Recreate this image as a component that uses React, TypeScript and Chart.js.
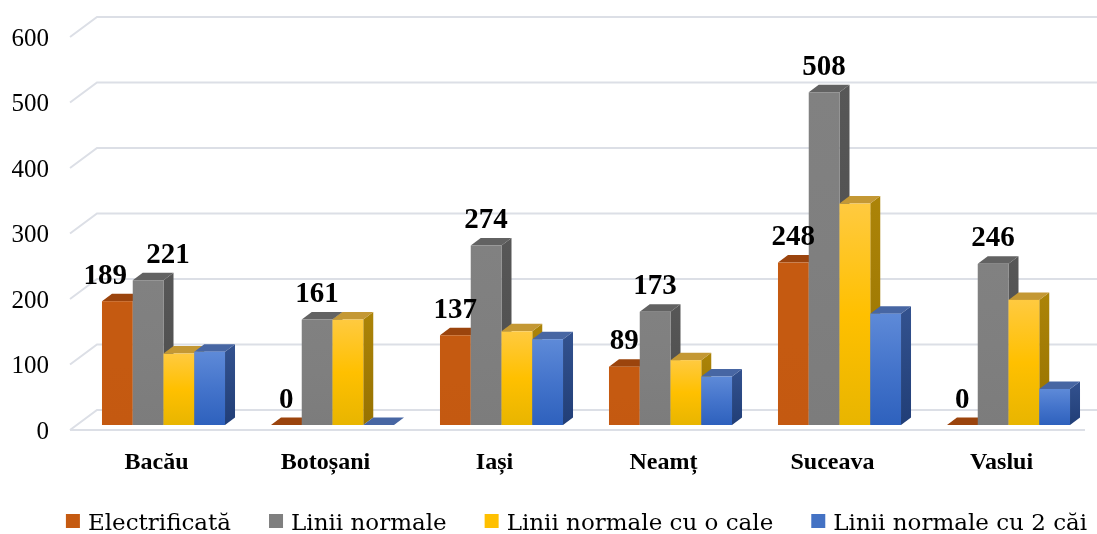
import React, { useEffect, useRef } from 'react';
import { Chart, registerables } from 'chart.js';

Chart.register(...registerables);

// ---- data ----
const categories = ['Bacău', 'Botoșani', 'Iași', 'Neamț', 'Suceava', 'Vaslui'];
const seriesNames = ['Electrificată', 'Linii normale', 'Linii normale cu o cale', 'Linii normale cu 2 căi'];
const electrificata = [189, 0, 137, 89, 248, 0];
const liniiNormale = [221, 161, 274, 173, 508, 246];
const liniiOCale = [109, 161, 143, 99, 338, 191];
const linii2Cai = [112, 0, 131, 74, 170, 55];
const yTickValues = [0, 100, 200, 300, 400, 500, 600];

// ---- styling ----
const W = 1097;
const H = 534;
const DX = 10;
const DY = 7.5;

const styles = [
  { legend: '#C55A11', front: ['#C55A11', '#C55A11', '#C45911'], top: '#9B440D', side: ['#8F3D0A', '#7E3508'] },
  { legend: '#7F7F7F', front: ['#818181', '#7F7F7F', '#7C7C7C'], top: '#626262', side: ['#575757', '#4C4C4C'] },
  { legend: '#FFC000', front: ['#FFCA40', '#FFC000', '#E8B500'], top: '#C49834', side: ['#AC8408', '#977200'] },
  { legend: '#4472C4', front: ['#5E8AD8', '#4474CB', '#2E61BD'], top: '#4766A3', side: ['#33528F', '#213E77'] },
];
const labelledSeries = [0, 1];
const labelShift = [
  [-12, 0, 0, 0, 0, 0],
  [20, 0, 0, 0, 0, 0],
];

const FONT_SERIF = '"Liberation Serif", serif';
const FONT_LEGEND = '"DejaVu Serif", serif';

const zeroPadding = (s: any) => {
  s.paddingTop = 0;
  s.paddingBottom = 0;
  s.paddingLeft = 0;
  s.paddingRight = 0;
};

const scene3d = {
  id: 'scene3d',
  beforeDatasetsDraw(chart: any) {
    const { ctx, chartArea: a, scales } = chart;
    const y = scales.y;
    ctx.save();
    ctx.strokeStyle = '#DCDFE6';
    ctx.lineWidth = 2;
    for (const v of yTickValues) {
      const py = y.getPixelForValue(v);
      ctx.beginPath();
      ctx.moveTo(a.left - 9, py + 5);
      ctx.lineTo(a.left + 18, py - 15);
      ctx.lineTo(W, py - 15);
      ctx.stroke();
    }
    const p0 = y.getPixelForValue(0) + 5;
    ctx.beginPath();
    ctx.moveTo(a.left - 9, p0);
    ctx.lineTo(a.right - 8, p0);
    ctx.stroke();
    ctx.restore();
  },
  afterDatasetsDraw(chart: any) {
    const { ctx } = chart;
    const n = chart.data.datasets.length;
    ctx.save();
    for (let j = 0; j < categories.length; j++) {
      for (let i = 0; i < n; i++) {
        const el = chart.getDatasetMeta(i).data[j];
        const p = el.getProps(['x', 'y', 'base', 'width'], true);
        const l = p.x - p.width / 2;
        const r = p.x + p.width / 2;
        const top = Math.min(p.y, p.base);
        const bot = Math.max(p.y, p.base);
        const s = styles[i];
        // side face
        let g = ctx.createLinearGradient(0, top - DY, 0, bot);
        g.addColorStop(0, s.side[0]);
        g.addColorStop(1, s.side[1]);
        ctx.fillStyle = g;
        ctx.beginPath();
        ctx.moveTo(r, top);
        ctx.lineTo(r + DX, top - DY);
        ctx.lineTo(r + DX, bot - DY);
        ctx.lineTo(r, bot);
        ctx.closePath();
        ctx.fill();
        // top face
        ctx.fillStyle = s.top;
        ctx.beginPath();
        ctx.moveTo(l, top);
        ctx.lineTo(l + DX, top - DY);
        ctx.lineTo(r + DX, top - DY);
        ctx.lineTo(r, top);
        ctx.closePath();
        ctx.fill();
        // front face
        if (bot - top > 0.5) {
          g = ctx.createLinearGradient(0, top, 0, bot);
          g.addColorStop(0, s.front[0]);
          g.addColorStop(0.5, s.front[1]);
          g.addColorStop(1, s.front[2]);
          ctx.fillStyle = g;
          ctx.fillRect(l, top, r - l, bot - top);
        }
      }
    }
    // value labels
    ctx.font = 'bold 29px ' + FONT_SERIF;
    ctx.fillStyle = '#000';
    ctx.textAlign = 'center';
    ctx.textBaseline = 'alphabetic';
    labelledSeries.forEach((i, k) => {
      const meta = chart.getDatasetMeta(i);
      meta.data.forEach((el: any, j: number) => {
        const p = el.getProps(['x', 'y'], true);
        const v = chart.data.datasets[i].data[j];
        ctx.fillText(String(v), p.x + labelShift[k][j], p.y - 17.5);
      });
    });
    ctx.restore();
  },
  afterDraw(chart: any) {
    const { ctx } = chart;
    ctx.save();
    ctx.font = '23px ' + FONT_LEGEND;
    ctx.textBaseline = 'alphabetic';
    ctx.textAlign = 'left';
    const box = 14;
    const gapText = 8;
    const gapItem = 38;
    const ds = chart.data.datasets;
    const widths = ds.map((d: any) => ctx.measureText(d.label).width);
    let total = 0;
    widths.forEach((w: number, i: number) => {
      total += box + gapText + w + (i < widths.length - 1 ? gapItem : 0);
    });
    let x = 576.5 - total / 2;
    ds.forEach((d: any, i: number) => {
      ctx.fillStyle = styles[i].legend;
      ctx.fillRect(x, 514, box, box);
      ctx.fillStyle = '#000';
      ctx.fillText(d.label, x + box + gapText, 530);
      x += box + gapText + widths[i] + gapItem;
    });
    ctx.restore();
  },
};

export default function App() {
  const ref = useRef<HTMLCanvasElement | null>(null);
  useEffect(() => {
    if (!ref.current) return;
    const series = [electrificata, liniiNormale, liniiOCale, linii2Cai];
    const chart = new Chart(ref.current, {
      type: 'bar',
      data: {
        labels: categories,
        datasets: series.map((d, i) => ({
          label: seriesNames[i],
          data: d,
          backgroundColor: 'rgba(0,0,0,0)',
          borderWidth: 0,
          categoryPercentage: 0.728,
          barPercentage: 1,
        })),
      },
      options: {
        animation: false,
        responsive: false,
        events: [],
        layout: { padding: { top: 32, right: 4, left: 0, bottom: 57 } },
        plugins: {
          legend: { display: false },
          tooltip: { enabled: false },
        },
        scales: {
          x: {
            grid: { display: false, drawTicks: false },
            border: { display: false },
            ticks: {
              font: { family: FONT_SERIF, size: 24, weight: 'bold' },
              color: '#000',
              padding: 23,
              labelOffset: -7,
              maxRotation: 0,
            },
            afterFit: (s: any) => {
              s.height = 52;
              zeroPadding(s);
            },
          },
          y: {
            min: 0,
            max: 600,
            ticks: {
              stepSize: 100,
              font: { family: FONT_SERIF, size: 25 },
              color: '#000',
              padding: 30,
              labelOffset: 7,
            },
            grid: { display: false, drawTicks: false },
            border: { display: false },
            afterFit: (s: any) => {
              s.width = 79;
              zeroPadding(s);
            },
          },
        },
      } as any,
      plugins: [scene3d],
    });
    return () => chart.destroy();
  }, []);
  return (
    <div style={{ position: 'absolute', left: 0, top: 0, width: W, height: H, background: '#fff' }}>
      <canvas ref={ref} width={W} height={H} style={{ display: 'block' }} />
    </div>
  );
}
